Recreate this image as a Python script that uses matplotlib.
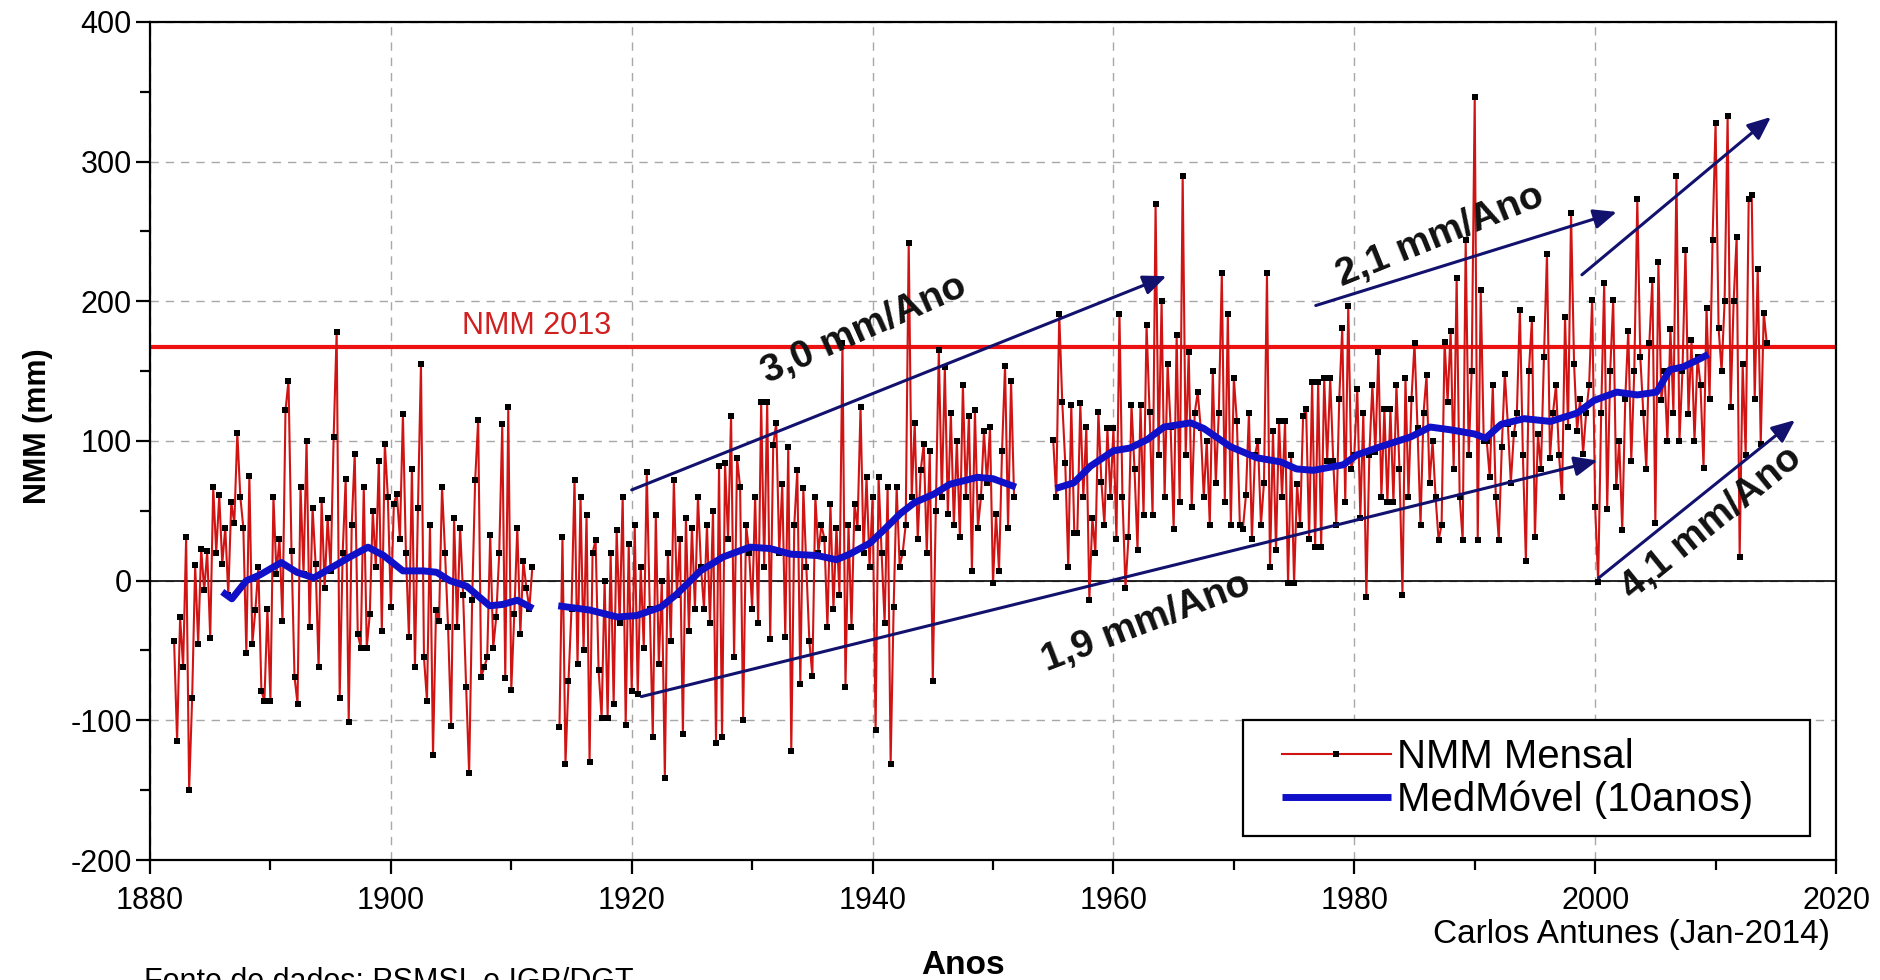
"""NMM mensal em Cascais (1882-2014) com média móvel de 10 anos"""
import matplotlib
matplotlib.use("Agg")  # sem display
import matplotlib.pyplot as plt
import numpy as np
from matplotlib.patches import Rectangle
from matplotlib.ticker import MultipleLocator

plt.rcParams["font.family"] = ["Liberation Sans", "DejaVu Sans"]
plt.rcParams["axes.unicode_minus"] = False

# NMM mensal (mm), 4 leituras por ano; três troços separados por lacunas
troco1_inicio = 1882.0
troco1_nmm = [
    -43, -115, -26, -62,  31, -150, -84, 11,  -45, 23, -7, 21,  -41, 67, 20, 61,
    12, 38, -10, 56,  41, 106, 60, 38,  -52, 75, -45, -21,  10, -79, -86, -20,
    -86, 60, 5, 30,  -29, 122, 143, 21,  -69, -88, 67, 5,  100, -33, 52, 12,
    -62, 58, -5, 45,  7, 103, 178, -84,  20, 73, -101, 40,  91, -38, -48, 67,
    -48, -24, 50, 10,  86, -36, 98, 60,  -19, 55, 62, 30,  119, 20, -40, 80,
    -62, 52, 155, -55,  -86, 40, -125, -21,  -29, 67, 20, -33,  -104, 45, -33, 38,
    -10, -76, -138, -14,  72, 115, -69, -62,  -55, 33, -48, -26,  20, 112, -70, 124,
    -78, -24, 38, -38,  14, -5, -20, 10,
]
troco2_inicio = 1914.0
troco2_nmm = [
    -105, 31, -131, -72,  -20, 72, -60, 60,  -50, 47, -130, 20,  29, -64, -98, 0,
    -98, 20, -88, 36,  -30, 60, -103, 26,  -79, 40, -81, 10,  -48, 78, -20, -112,
    47, -60, 0, -141,  20, -43, 72, -10,  30, -110, 45, -36,  38, -20, 60, 10,
    -20, 40, -30, 50,  -116, 82, -112, 84,  30, 118, -55, 88,  67, -100, 40, 20,
    -20, 60, -30, 128,  10, 128, -42, 97,  113, 20, 69, -40,  96, -122, 40, 79,
    -74, 66, 10, -43,  -68, 60, 20, 40,  30, -33, 55, -20,  38, -10, 170, -76,
    40, -33, 55, 38,  124, 20, 74, 10,  60, -107, 74, 20,  -30, 67, -131, -19,
    67, 10, 20, 40,  242, 60, 113, 30,  79, 98, 20, 93,  -72, 50, 165, 60,
    153, 48, 120, 40,  100, 31, 140, 60,  118, 7, 122, 38,  60, 107, 70, 110,
    -2, 48, 7, 93,  154, 38, 143, 60,
]
troco3_inicio = 1955.0
troco3_nmm = [
    101, 60, 191, 128,  84, 10, 126, 34,  34, 127, 60, 110,  -14, 45, 20, 121,
    71, 40, 109, 60,  109, 30, 191, 60,  -5, 31, 126, 80,  22, 126, 47, 183,
    121, 47, 270, 90,  200, 60, 155, 110,  37, 176, 56, 290,  90, 164, 53, 120,
    135, 109, 60, 100,  40, 150, 70, 120,  220, 56, 191, 40,  145, 114, 40, 37,
    61, 120, 30, 90,  100, 40, 70, 220,  10, 107, 22, 114,  60, 114, -2, 90,
    -2, 69, 40, 118,  123, 30, 142, 24,  142, 24, 145, 86,  145, 86, 40, 130,
    181, 56, 197, 80,  90, 137, 45, 120,  -12, 90, 140, 92,  164, 60, 123, 56,
    123, 56, 140, 80,  -10, 145, 60, 130,  170, 109, 40, 120,  147, 70, 100, 60,
    29, 40, 171, 128,  179, 80, 217, 60,  29, 244, 90, 150,  346, 29, 208, 100,
    100, 74, 140, 60,  29, 96, 148, 112,  70, 105, 120, 194,  90, 14, 150, 187,
    31, 105, 80, 160,  234, 88, 120, 140,  90, 60, 189, 110,  263, 155, 107, 130,
    91, 120, 140, 201,  53, -1, 120, 213,  51, 150, 201, 67,  100, 36, 130, 179,
    86, 150, 273, 160,  120, 80, 170, 215,  41, 228, 129, 150,  100, 180, 120, 290,
    100, 150, 237, 119,  172, 100, 160, 140,  81, 195, 130, 244,  328, 181, 150, 200,
    333, 124, 200, 246,  17, 155, 90, 273,  276, 130, 223, 98,  192, 170,
]

# média móvel de 10 anos
mm1_anos = [1886.0, 1886.8, 1888.0, 1889.1, 1890.9, 1892.2, 1893.6, 1895.0, 1896.6, 1898.1,
            1899.4, 1901.0, 1902.7, 1903.8, 1904.9, 1906.3, 1908.2, 1909.3, 1910.5, 1911.8]
mm1_nmm = [-8, -13, 0, 4, 13, 6, 2, 9, 17, 24, 18, 7, 7, 6, 0, -4, -18, -17, -14, -20]
mm2_anos = [1913.9, 1916.5, 1918.8, 1920.4, 1922.4, 1923.7, 1925.7, 1927.6, 1929.8, 1931.5,
            1933.2, 1935.4, 1937.0, 1938.1, 1939.8, 1940.9, 1942.3, 1943.5, 1945.1, 1946.4,
            1948.7, 1950.0, 1951.9]
mm2_nmm = [-18, -21, -26, -25, -19, -10, 7, 17, 24, 23, 19, 18, 15, 19, 27, 36, 48, 56, 62, 69,
           74, 73, 67]
mm3_anos = [1955.2, 1956.7, 1958.1, 1960.0, 1961.4, 1962.8, 1964.2, 1966.4, 1967.5, 1969.7,
            1971.9, 1973.9, 1975.2, 1976.6, 1979.1, 1980.2, 1982.2, 1984.7, 1986.3, 1988.0,
            1990.0, 1990.9, 1992.2, 1994.1, 1996.3, 1998.5, 1999.9, 2001.8, 2003.5, 2005.1,
            2006.2, 2007.3, 2008.5, 2009.4]
mm3_nmm = [66, 70, 82, 93, 95, 101, 110, 113, 109, 96, 88, 85, 80, 79, 83, 90, 96, 103, 110, 108,
           105, 102, 112, 116, 114, 120, 129, 135, 133, 135, 151, 153, 158, 162]

nmm_2013 = 167

# tendências: (início, fim, texto, posição do texto, rotação)
tendencias = [
    ((1920.0, 65), (1964.4, 218), "3,0 mm/Ano", (1939.3, 180), 24),
    ((1920.8, -83), (2000.2, 86), "1,9 mm/Ano", (1962.7, -30), 21),
    ((1976.8, 197), (2001.8, 264), "2,1 mm/Ano", (1987.1, 247), 22),
    ((1998.9, 219), (2014.6, 332), None, None, 0),
    ((2000.3, 2), (2016.6, 115), "4,1 mm/Ano", (2009.7, 41), 39),
]

VERMELHO = "#d01414"
AZUL = "#1010c8"
NAVY = "#12126e"

fig = plt.figure(figsize=(18.81, 9.8), dpi=100)
ax = fig.add_axes([150 / 1881, 1 - 860 / 980, 1686 / 1881, 838 / 980])

ax.axhline(nmm_2013, color="#ee1111", lw=3, zorder=2)
ax.axhline(0, color="black", lw=1.2, zorder=2)

trocos = [(troco1_inicio, troco1_nmm), (troco2_inicio, troco2_nmm), (troco3_inicio, troco3_nmm)]
for i, (inicio, vals) in enumerate(trocos):
    t = inicio + np.arange(len(vals)) / 4.0
    ax.plot(t, vals, color=VERMELHO, lw=1.5, marker="s", markersize=4,
            markerfacecolor="black", markeredgecolor="black", markeredgewidth=0,
            zorder=3, label="NMM Mensal" if i == 0 else None)

for i, (anos, vals) in enumerate([(mm1_anos, mm1_nmm), (mm2_anos, mm2_nmm), (mm3_anos, mm3_nmm)]):
    ax.plot(anos, vals, color=AZUL, lw=5, solid_capstyle="butt", zorder=4,
            label="MedMóvel (10anos)" if i == 0 else None)

for inicio, fim, texto, pos, rot in tendencias:
    ax.annotate("", xy=fim, xytext=inicio, zorder=5,
                arrowprops=dict(arrowstyle="-|>,head_length=0.7,head_width=0.3",
                                color=NAVY, lw=2.2, shrinkA=0, shrinkB=0, mutation_scale=20))
    if texto:
        ax.text(pos[0], pos[1], texto, rotation=rot, rotation_mode="anchor",
                ha="center", va="center", fontsize=28, fontweight="bold",
                color="#111111", zorder=6)

ax.text(1912.1, 182, "NMM 2013", color="#d02020", fontsize=22, ha="center", va="center")

# eixos
ax.set_xlim(1880, 2020)
ax.set_ylim(-200, 400)
ax.xaxis.set_major_locator(MultipleLocator(20))
ax.xaxis.set_minor_locator(MultipleLocator(10))
ax.yaxis.set_major_locator(MultipleLocator(100))
ax.yaxis.set_minor_locator(MultipleLocator(50))
ax.tick_params(which="major", direction="out", length=10, width=1.6, labelsize=22,
               pad=9, top=False, right=False)
ax.tick_params(axis="y", which="major", pad=3)
ax.tick_params(which="minor", direction="out", length=7, width=1.6, top=False, right=False)
for sp in ax.spines.values():
    sp.set_linewidth(1.6)
ax.grid(True, which="major", color="#a8a8a8", lw=1.0, linestyle=(0, (6, 5)), zorder=0)
ax.set_axisbelow(True)

# legenda com moldura própria
ax.add_patch(Rectangle((0.648, 0.0286), 0.3366, 0.138, transform=ax.transAxes,
                       facecolor="white", edgecolor="black", lw=1.6, zorder=7))
leg = ax.legend(loc="center left", bbox_to_anchor=(0.6714, 0.0973), frameon=False,
                fontsize=29, numpoints=1, handlelength=2.7, handletextpad=0.15,
                labelspacing=0.1, borderpad=0, borderaxespad=0)
leg.set_zorder(8)

fig.text(38 / 1881, 1 - 426 / 980, "NMM (mm)", rotation=90, ha="center", va="center",
         fontsize=22, fontweight="bold")
fig.text(963 / 1881, 1 - 965 / 980, "Anos", ha="center", va="center",
         fontsize=24, fontweight="bold")
fig.text(1830 / 1881, 1 - 934 / 980, "Carlos Antunes (Jan-2014)", ha="right", va="center",
         fontsize=24)
fig.text(144 / 1881, 1 - 967 / 980, "Fonte de dados: PSMSL e IGP/DGT", ha="left", va="top",
         fontsize=22)

fig.savefig("out.png", dpi=100)
